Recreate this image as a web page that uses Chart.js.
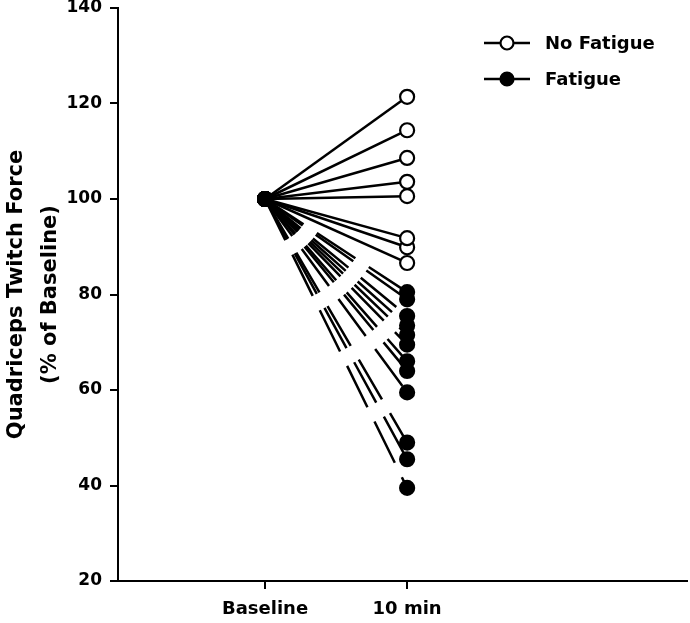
<!DOCTYPE html>
<html>
<head>
<meta charset="utf-8">
<script src="https://cdn.jsdelivr.net/npm/chart.js@4"></script>
<style>
  html, body { margin: 0; padding: 0; background: #fff; }
  #wrap { width: 690px; height: 623px; }
</style>
</head>
<body>
<div id="wrap"><canvas id="twitchChart"></canvas></div>
<script>
// ===== DATA =====
const timeLabels = ["Baseline", "10 min"];
const baselineValue = 100;
const noFatigue = [121.4, 114.4, 108.6, 103.6, 100.6, 91.8, 89.9, 86.6];
const fatigue = [80.5, 79, 75.5, 73.5, 71.5, 69.5, 66, 64, 59.5, 49, 45.5, 39.5];
const yTicks = [20, 40, 60, 80, 100, 120, 140];
const seriesNames = ["No Fatigue", "Fatigue"];

const font = "'DejaVu Sans', sans-serif";

// one line per subject: baseline -> 10 min
const subjectLine = (end, filled) => ({
  data: [{ x: 0, y: baselineValue }, { x: 1, y: end }],
  borderColor: "#000",
  borderWidth: 2.5,
  borderDash: filled ? [46, 16] : [],
  pointRadius: 7,
  pointBorderWidth: 2.2,
  pointBorderColor: "#000",
  pointBackgroundColor: filled ? "#000" : "#fff",
  showLine: true,
});

// first dataset is drawn on top, so fatigue goes first (filled baseline dot)
const datasets = [
  ...fatigue.map(v => subjectLine(v, true)),
  ...noFatigue.map(v => subjectLine(v, false)),
];

// ===== LEGEND (line + marker) =====
const legendPlugin = {
  id: "lineLegend",
  afterDraw(chart) {
    const ctx = chart.ctx;
    ctx.save();
    seriesNames.forEach((name, i) => {
      const y = 43 + i * 36;
      ctx.strokeStyle = "#000";
      ctx.lineWidth = 2.5;
      ctx.beginPath();
      ctx.moveTo(484, y);
      ctx.lineTo(530, y);
      ctx.stroke();
      ctx.beginPath();
      ctx.arc(507, y, 6.5, 0, Math.PI * 2);
      ctx.fillStyle = i === 0 ? "#fff" : "#000";
      ctx.fill();
      ctx.lineWidth = 2.2;
      ctx.stroke();
      ctx.fillStyle = "#000";
      ctx.font = "bold 18px " + font;
      ctx.textBaseline = "middle";
      ctx.fillText(name, 545, y + 1);
    });
    ctx.restore();
  },
};

new Chart(document.getElementById("twitchChart"), {
  type: "scatter",
  data: { datasets },
  plugins: [legendPlugin],
  options: {
    responsive: true,
    maintainAspectRatio: false,
    animation: false,
    layout: { autoPadding: false, padding: { top: 8, right: 3, left: 0, bottom: 0 } },
    plugins: { legend: { display: false }, tooltip: { enabled: false } },
    scales: {
      x: {
        type: "linear",
        min: -1.035,
        max: 2.97,
        afterBuildTicks: s => { s.ticks = timeLabels.map((_, i) => ({ value: i })); },
        afterFit: s => { s.height = 42; s.paddingLeft = 0; s.paddingRight = 0; },
        ticks: {
          callback: v => timeLabels[v],
          color: "#000",
          font: { family: font, size: 18, weight: "bold" },
          padding: 10,
          maxRotation: 0,
        },
        grid: { drawOnChartArea: false, tickLength: 8, color: "#000", lineWidth: 2 },
        border: { color: "#000", width: 2 },
      },
      y: {
        min: 20,
        max: 140,
        afterBuildTicks: s => { s.ticks = yTicks.map(v => ({ value: v })); },
        afterFit: s => { s.width = 118; s.paddingTop = 0; s.paddingBottom = 0; },
        ticks: {
          color: "#000",
          font: { family: font, size: 17, weight: "bold" },
          padding: 8,
        },
        grid: { drawOnChartArea: false, tickLength: 8, color: "#000", lineWidth: 2 },
        border: { color: "#000", width: 2 },
        title: {
          display: true,
          text: ["Quadriceps Twitch Force", "(% of Baseline)"],
          color: "#000",
          font: { family: font, size: 21, weight: "bold", lineHeight: 1.6 },
          padding: { top: 0, bottom: 4 },
        },
      },
    },
  },
});
</script>
</body>
</html>
